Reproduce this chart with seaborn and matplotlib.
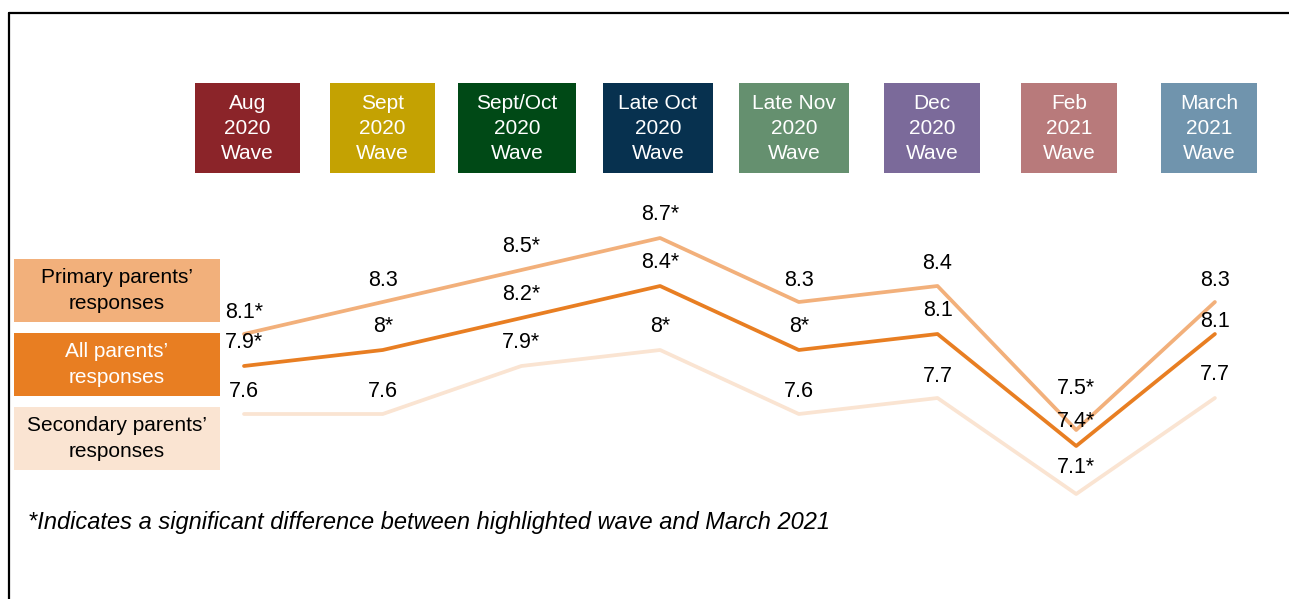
import matplotlib
matplotlib.use("Agg")
import matplotlib.pyplot as plt
from matplotlib.patches import Rectangle
from matplotlib.lines import Line2D
import seaborn as sns
import pandas as pd

# ---- data ----
waves = ["Aug\n2020\nWave", "Sept\n2020\nWave", "Sept/Oct\n2020\nWave", "Late Oct\n2020\nWave",
         "Late Nov\n2020\nWave", "Dec\n2020\nWave", "Feb\n2021\nWave", "March\n2021\nWave"]
wave_colors = ["#8B2429", "#C4A202", "#004916", "#07314F", "#65906F", "#7B6A9A", "#B87A7B", "#7094AD"]

primary = [8.1, 8.3, 8.5, 8.7, 8.3, 8.4, 7.5, 8.3]
primary_labels = ["8.1*", "8.3", "8.5*", "8.7*", "8.3", "8.4", "7.5*", "8.3"]
all_parents = [7.9, 8.0, 8.2, 8.4, 8.0, 8.1, 7.4, 8.1]
all_labels = ["7.9*", "8*", "8.2*", "8.4*", "8*", "8.1", "7.4*", "8.1"]
secondary = [7.6, 7.6, 7.9, 8.0, 7.6, 7.7, 7.1, 7.7]
secondary_labels = ["7.6", "7.6", "7.9*", "8*", "7.6", "7.7", "7.1*", "7.7"]

series_names = ["Primary parents’\nresponses", "All parents’\nresponses", "Secondary parents’\nresponses"]
series_colors = ["#F2B07B", "#E87E22", "#FAE4D2"]
legend_text_colors = ["black", "white", "black"]

footnote = "*Indicates a significant difference between highlighted wave and March 2021"

# ---- figure ----
W, H = 1289, 599
sns.set_theme(style="white")
plt.rcParams["font.family"] = ["Liberation Sans", "DejaVu Sans"]
fig = plt.figure(figsize=(W / 100, H / 100), dpi=100)
ax = fig.add_axes([0, 0, 1, 1])

def fx(p):
    return p / W

def fy(p):
    return 1 - p / H

rows = []
for name, vals in zip(series_names, [primary, all_parents, secondary]):
    for i, v in enumerate(vals):
        rows.append({"wave": i, "value": v, "series": name})
df = pd.DataFrame(rows)

draw_order = [series_names[2], series_names[0], series_names[1]]
for name in draw_order:
    k = series_names.index(name)
    sns.lineplot(data=df[df["series"] == name], x="wave", y="value", color=series_colors[k],
                 linewidth=2.7, ax=ax, legend=False, sort=False)

# axes scale to place chart
ax.set_xlim(-244 / 138.7, (W - 244) / 138.7)
ax.set_ylim(8.7 - (H - 238) / 160, 8.7 + 238 / 160)
ax.axis("off")

# value labels (offsets in pixels above the point)
def px2pt(p):
    return p * 72 / 100

offsets = {
    0: [21, 21, 23, 23, 21, 22, 41, 21],
    1: [23, 23, 23, 23, 23, 23, 24, 12],
    2: [22, 22, 23, 23, 22, 21, 26, 23],
}
for k, (vals, labs) in enumerate(zip([primary, all_parents, secondary],
                                     [primary_labels, all_labels, secondary_labels])):
    for i, (v, lab) in enumerate(zip(vals, labs)):
        ax.annotate(lab, (i, v), xytext=(0, px2pt(offsets[k][i])), textcoords="offset points",
                    ha="center", va="center", fontsize=15.5, color="black")

# wave header boxes (pixel extents)
box_x = [(195, 300), (330, 435), (458, 576), (603, 713), (739, 849), (884, 980), (1021, 1117), (1161, 1257)]
for (x0, x1), lab, col in zip(box_x, waves, wave_colors):
    fig.add_artist(Rectangle((fx(x0), fy(173)), fx(x1 - x0), (173 - 83) / H,
                             transform=fig.transFigure, facecolor=col, edgecolor="none"))
    fig.text(fx((x0 + x1) / 2), fy(128.5), lab, ha="center", va="center", color="white",
             fontsize=15, linespacing=1.42)

# legend boxes
leg_y = [(259, 322), (333, 396), (407, 470)]
for (y0, y1), name, col, tc in zip(leg_y, series_names, series_colors, legend_text_colors):
    fig.add_artist(Rectangle((fx(14), fy(y1)), fx(220 - 14), (y1 - y0) / H,
                             transform=fig.transFigure, facecolor=col, edgecolor="none"))
    fig.text(fx(117), fy((y0 + y1) / 2), name, ha="center", va="center", color=tc,
             fontsize=15, linespacing=1.42)

# footnote
fig.text(fx(28), fy(523), footnote, ha="left", va="center", fontsize=17, style="italic",
         color="black")

# frame lines
fig.add_artist(Line2D([fx(9), 1], [fy(13), fy(13)], transform=fig.transFigure, color="black", linewidth=1.6))
fig.add_artist(Line2D([fx(9), fx(9)], [fy(13), 0], transform=fig.transFigure, color="black", linewidth=1.6))

fig.savefig("out.png", dpi=100)
